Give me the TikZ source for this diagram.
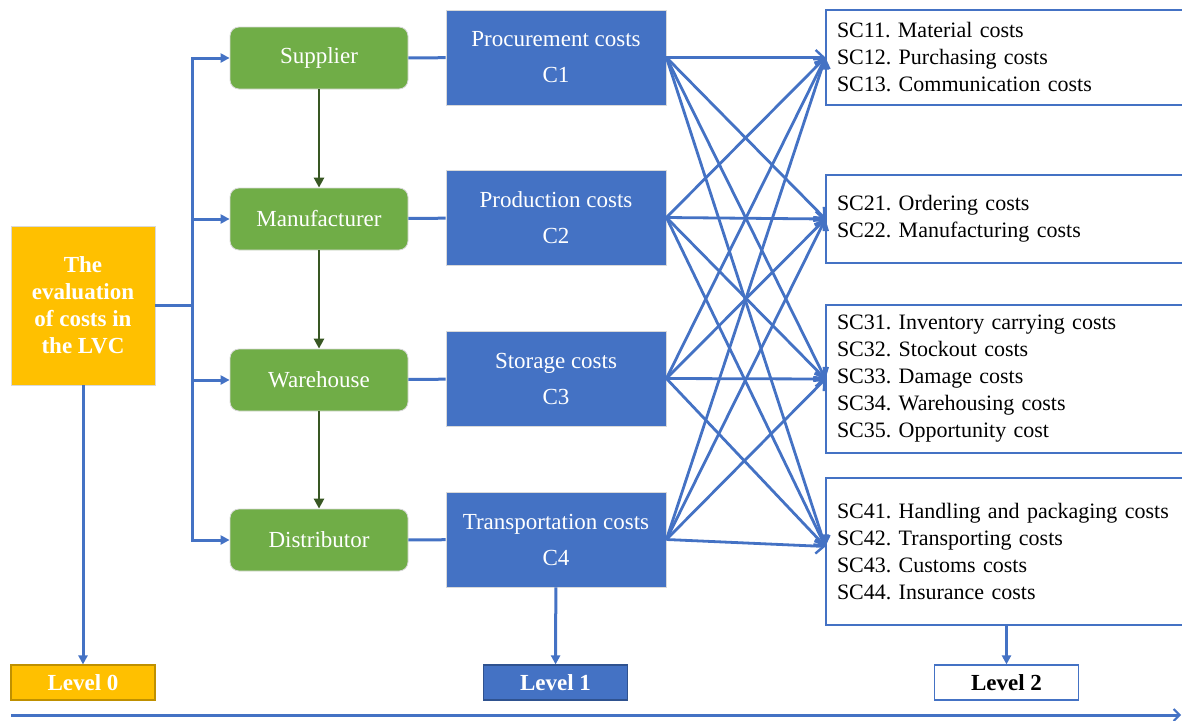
\documentclass[tikz,border=0pt]{standalone}
\usepackage{fontspec}
\setmainfont{Liberation Serif}
\usetikzlibrary{arrows.meta}
\definecolor{lvcblue}{HTML}{4472C4}
\definecolor{lvcgreen}{HTML}{70AD47}
\definecolor{lvcdark}{HTML}{385723}
\definecolor{lvcgold}{HTML}{FFC000}
\definecolor{lvcgoldline}{HTML}{BF9000}
\definecolor{lvcblueline}{HTML}{2F528F}
\frenchspacing
\begin{document}
\begin{tikzpicture}[x=1pt,y=-1pt,
  actor/.style={draw=black!15,line width=.8pt,fill=lvcgreen,rounded corners=9pt,text=white,
    minimum width=178pt,minimum height=62pt,font=\fontsize{23}{27}\selectfont},
  cost/.style={draw=black!15,line width=.8pt,fill=lvcblue,text=white,align=center,
    minimum width=220pt,minimum height=95pt,font=\fontsize{23}{36}\selectfont},
  subcost/.style={draw=lvcblue,line width=1.2pt,text width=337pt,inner xsep=11pt,inner ysep=0pt,
    align=left,font=\fontsize{22}{27}\selectfont},
  levelbox/.style={line width=1.2pt,minimum width=144pt,minimum height=35pt,inner sep=0pt,
    font=\bfseries\fontsize{23}{26}\selectfont},
  link/.style={lvcblue,line width=3pt},
  feed/.style={link,-{Triangle[length=9pt,width=9pt]}},
  cross/.style={lvcblue,line width=2.8pt,-{Straight Barb[length=8pt,width=15pt,line width=2.4pt]}},
  flow/.style={lvcdark,line width=2.8pt,-{Triangle[length=10pt,width=10pt]}}]
\path[use as bounding box] (0,0) rectangle (1182,720);

% level 0
\node[draw=black!15,line width=.8pt,fill=lvcgold,text=white,align=center,minimum width=144pt,
  minimum height=159pt,font=\bfseries\fontsize{23}{27}\selectfont] (eval) at (83,305.5)
  {The\\evaluation\\of costs in\\the LVC};

% actors
\node[actor] (sup) at (319,58) {Supplier};
\node[actor] (man) at (319,219) {Manufacturer};
\node[actor] (war) at (319,380) {Warehouse};
\node[actor] (dis) at (319,540) {Distributor};

% level 1
\node[cost] (c1) at (556,57.5) {Procurement costs\\C1};
\node[cost] (c2) at (556,217.5) {Production costs\\C2};
\node[cost] (c3) at (556,378.5) {Storage costs\\C3};
\node[cost] (c4) at (556,539.5) {Transportation costs\\C4};

% level 2
\node[subcost,minimum height=95pt] (sc1) at (1005.5,57.5)
  {SC11. Material costs\\SC12. Purchasing costs\\SC13. Communication costs};
\node[subcost,minimum height=88pt] (sc2) at (1005.5,219)
  {SC21. Ordering costs\\SC22. Manufacturing costs};
\node[subcost,minimum height=148pt] (sc3) at (1005.5,379)
  {SC31. Inventory carrying costs\\SC32. Stockout costs\\SC33. Damage costs\\SC34. Warehousing costs\\SC35. Opportunity cost};
\node[subcost,minimum height=147pt] (sc4) at (1005.5,551.5)
  {SC41. Handling and packaging costs\\SC42. Transporting costs\\SC43. Customs costs\\SC44. Insurance costs};

% level labels
\node[levelbox,draw=lvcgoldline,fill=lvcgold,text=white] (lv0) at (83,682.5) {Level 0};
\node[levelbox,draw=lvcblueline,fill=lvcblue,text=white] (lv1) at (555.5,682.5) {Level 1};
\node[levelbox,draw=lvcblue,fill=white] (lv2) at (1006.5,682.5) {Level 2};

% bracket to actors
\coordinate (fork) at (192,305.5);
\draw[link] (eval.east) -- (fork);
\foreach \a in {sup,man,war,dis}
  \draw[feed] (fork) |- (\a.west);
\draw[flow] (sup) -- (man);
\draw[flow] (man) -- (war);
\draw[flow] (war) -- (dis);

\draw[link] (sup) -- (c1);
\draw[link] (man) -- (c2);
\draw[link] (war) -- (c3);
\draw[link] (dis) -- (c4);

% cost links
\coordinate (t1) at (sc1.west);
\coordinate (t2) at (sc2.west);
\coordinate (t3) at (sc3.west);
\coordinate (t4) at ([yshift=5pt]sc4.west);
\foreach \s in {c1,c2,c3,c4}
  \foreach \t in {t1,t2,t3,t4}
    \draw[cross] (\s.east) -- (\t);

% down to levels
\draw[feed] (eval) -- (lv0);
\draw[feed] (c4) -- (lv1);
\draw[feed] (sc4.south -| lv2.north) -- (lv2);

\coordinate (axisL) at (11,715);
\coordinate (axisR) at (1181,715);
\draw[link,-{Straight Barb[length=6pt,width=12pt,line width=2pt]}] (axisL) -- (axisR);
\end{tikzpicture}
\end{document}
